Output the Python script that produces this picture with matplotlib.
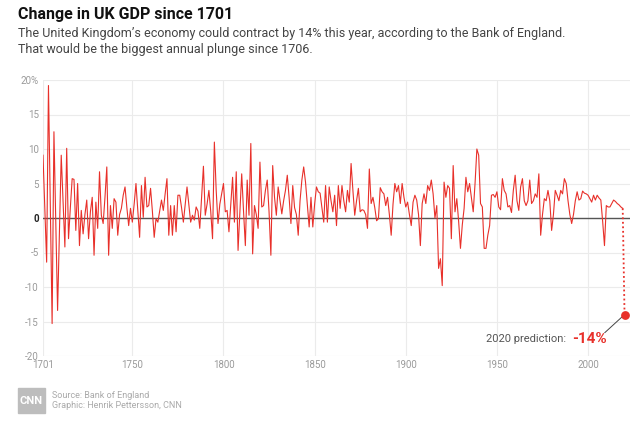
import matplotlib.pyplot as plt
from matplotlib.patches import Rectangle

# annual change in UK GDP (%), 1701-2019
gdp_change = [
    9.1, 1.5, -6.4, 19.2, 2.0, -15.3, 12.5, -0.5, -13.4, -2.0,    # 1701-1710
    9.1, 2.5, -4.2, 10.1, -3.0, 1.5, 5.7, 5.6, -1.8, 5.0,         # 1711-1720
    -4.0, 1.1, -2.3, 0.5, 2.6, -3.0, 0.9, 3.0, -5.4, 2.3,         # 1721-1730
    -1.5, 6.7, 0.4, -0.8, 3.0, 7.4, -5.4, 1.8, -1.5, 2.8,         # 1731-1740
    2.3, -2.5, 0.5, 1.4, 3.3, 4.5, 1.5, -1.1, 1.4, -0.6,          # 1741-1750
    2.0, 5.0, 1.0, -2.8, 4.7, 0.1, 5.9, 1.6, 1.8, 4.3,            # 1751-1760
    1.0, -2.8, -0.1, -0.6, 1.0, 2.6, 1.1, 3.5, 5.7, -2.5,         # 1761-1770
    1.8, -2.5, 1.8, -2.0, 3.3, 3.3, 1.5, -0.6, 2.0, 4.5,          # 1771-1780
    2.0, -0.6, 0.4, -0.3, 1.6, 1.0, -1.5, 3.0, 7.5, 0.4,          # 1781-1790
    2.0, 4.0, 1.0, -3.0, 11.0, 4.0, -0.8, 2.0, 3.5, 5.0,          # 1791-1800
    0.9, 1.1, -2.0, 2.0, 5.9, -0.6, 6.7, -4.7, 1.0, 6.4,          # 1801-1810
    1.0, -4.0, 5.5, 0.4, 10.8, -5.2, 1.8, 0.5, -1.5, 8.1,         # 1811-1820
    1.6, 1.8, 4.0, 5.5, 0.9, -5.4, 7.6, 3.0, 0.4, 4.5,            # 1821-1830
    2.5, 0.6, 2.5, 4.0, 6.2, 3.0, -0.8, 4.7, 1.5, 0.5,            # 1831-1840
    -2.5, 2.5, 5.5, 7.4, 5.2, 2.0, -1.3, 3.0, -1.3, 2.0,          # 1841-1850
    4.5, 3.8, 3.6, 1.5, -0.6, 4.7, -0.6, 4.5, 2.5, 0.9,           # 1851-1860
    3.3, -1.1, 4.7, 1.4, 4.7, 2.5, 0.9, 4.0, 2.3, 7.9,            # 1861-1870
    4.0, 0.4, 2.5, 4.3, 0.9, 1.2, 1.1, 0.5, -1.5, 7.1,            # 1871-1880
    2.1, 3.0, 1.5, -0.4, -0.1, 4.4, 3.8, 3.5, 1.8, 3.0,           # 1881-1890
    0.5, -2.5, 2.0, 5.0, 3.8, 4.7, 2.1, 5.0, 3.0, 1.6,            # 1891-1900
    2.3, 0.5, -1.1, 2.3, 3.3, 2.6, 0.5, -4.0, 2.1, 3.5,           # 1901-1910
    2.1, 4.7, 4.0, 5.5, 3.5, 0.0, 1.8, -7.3, -5.9, -9.8,          # 1911-1920
    5.2, 3.0, 4.7, 4.3, -3.0, 7.6, 0.9, 2.8, -0.5, -4.4,          # 1921-1930
    -1.0, 1.4, 5.9, 3.8, 5.0, 3.0, 0.9, 5.0, 10.0, 9.1,           # 1931-1940
    2.1, 1.6, -4.4, -4.4, -2.5, -1.1, 3.3, 3.4, 3.0, 3.8,         # 1941-1950
    1.6, 1.2, 5.7, 4.0, 3.5, 1.6, 1.8, 0.8, 4.0, 6.2,             # 1951-1960
    2.5, 1.1, 4.5, 5.7, 2.5, 1.8, 2.5, 5.5, 2.1, 2.5,             # 1961-1970
    3.5, 3.0, 6.4, -2.5, 0.5, 2.8, 2.5, 4.0, 2.5, -1.8,           # 1971-1980
    0.5, 4.0, 3.3, 2.5, 4.0, 3.5, 5.7, 5.0, 2.5, 0.5,             # 1981-1990
    -0.8, 0.5, 2.5, 3.8, 2.6, 2.8, 3.9, 3.6, 3.5, 3.3,            # 1991-2000
    2.8, 2.3, 3.3, 2.6, 3.3, 2.9, 2.6, -0.5, -4.0, 1.8,           # 2001-2010
    1.6, 1.6, 2.1, 2.6, 2.4, 2.1, 1.9, 1.6, 1.4,                  # 2011-2019
]
years = list(range(1701, 1701 + len(gdp_change)))

pred_year = 2020
pred_value = -14

x_ticks = [1701, 1750, 1800, 1850, 1900, 1950, 2000]
y_ticks = [-20, -15, -10, -5, 0, 5, 10, 15, 20]
y_labels = ["-20", "-15", "-10", "-5", "0", "5", "10", "15", "20%"]

FONT = ["Roboto", "DejaVu Sans"]
RED = "#e8302a"
GREY = "#9a9a9a"

fig = plt.figure(figsize=(6.4, 4.25), dpi=100)
W, H = 640, 425

def fx(px):
    return px / W

def fy(py):
    return 1 - py / H

# plot area in pixels: left 43, right 630, top 80, bottom 356
ax = fig.add_axes([fx(43), fy(356), fx(630 - 43), fy(80) - fy(356)])

ax.plot(years, gdp_change, color=RED, lw=0.8, zorder=3)
ax.plot([years[-1], pred_year], [gdp_change[-1], pred_value], color=RED,
        lw=1.3, ls=(0, (1, 1.5)), zorder=3)
ax.scatter([pred_year], [pred_value], s=28, color=RED, zorder=4)
ax.axhline(0, color="#555555", lw=1.0, zorder=2)

ax.set_xlim(1701, 2023)
ax.set_ylim(-20, 20)
ax.set_xticks(x_ticks)
ax.set_yticks(y_ticks)
ax.set_yticklabels(y_labels)
ax.grid(True, color="#ebebeb", lw=0.8, zorder=0)
for s in ax.spines.values():
    s.set_visible(False)
ax.tick_params(length=0, labelsize=7, colors=GREY, pad=3)
for lab in ax.get_xticklabels() + ax.get_yticklabels():
    lab.set_family(FONT)
ax.get_yticklabels()[4].set_color("#222222")
ax.get_yticklabels()[4].set_fontweight("bold")

# annotation for the prediction
ax.annotate("", xy=(pred_year, pred_value), xytext=(2008, -16.9),
            arrowprops=dict(arrowstyle="-", color="#444444", lw=0.7))
ax.text(1988, -17.5, "2020 prediction:", family=FONT, fontsize=8,
        color="#555555", ha="right", va="center")
ax.text(1991, -17.5, "-14%", family=FONT, fontsize=11, fontweight="bold",
        color=RED, ha="left", va="center")

# header
fig.text(fx(18), fy(15), "Change in UK GDP since 1701", family=FONT,
         fontsize=11.5, fontweight="bold", color="#111111", va="center")
fig.text(fx(18), fy(34),
         "The United Kingdom\u2019s economy could contract by 14% this year, according to the Bank of England.",
         family=FONT, fontsize=9, color="#444444", va="center")
fig.text(fx(18), fy(50), "That would be the biggest annual plunge since 1706.",
         family=FONT, fontsize=9, color="#444444", va="center")

# footer
fig.patches.append(Rectangle((fx(18), fy(413)), fx(27), fy(388) - fy(413),
                             transform=fig.transFigure, color="#bdbdbd"))
fig.text(fx(31.5), fy(400.5), "CNN", family=FONT, fontsize=8, fontweight="bold",
         color="white", ha="center", va="center")
fig.text(fx(52), fy(395), "Source: Bank of England", family=FONT,
         fontsize=6.5, color="#aaaaaa", va="center")
fig.text(fx(52), fy(406), "Graphic: Henrik Pettersson, CNN", family=FONT,
         fontsize=6.5, color="#aaaaaa", va="center")

fig.savefig("out.png", dpi=100, facecolor="white")
